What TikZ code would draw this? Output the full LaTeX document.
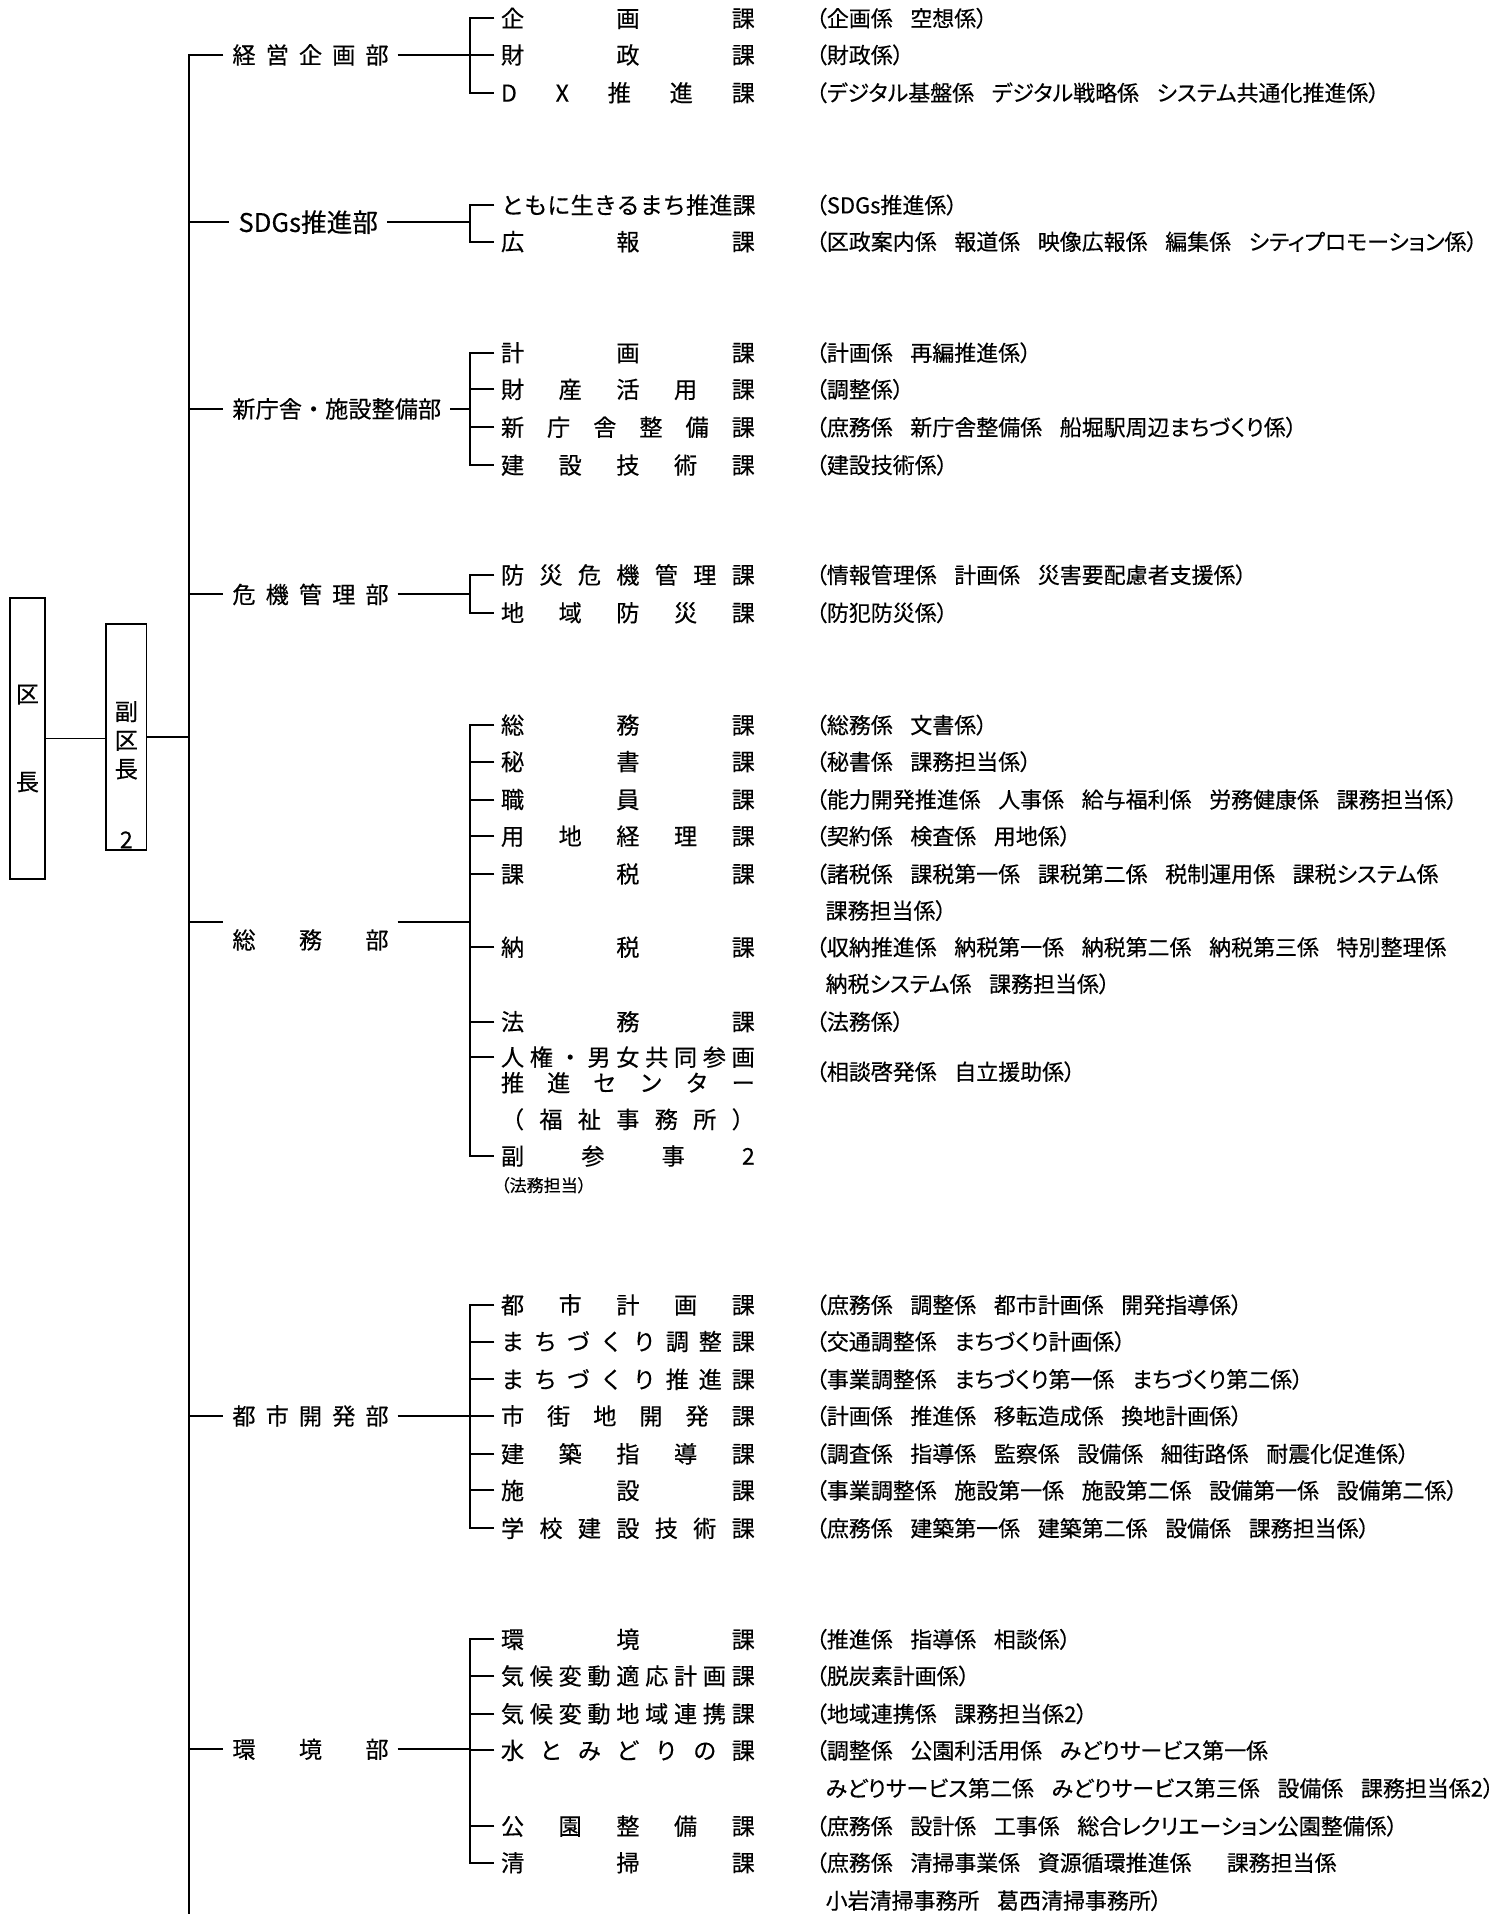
\documentclass[tikz,border=0pt]{standalone}
\usepackage{fontspec}
\setmainfont{Noto Sans CJK JP}[FakeBold=0.35]
\newfontfamily\jpp{Noto Sans CJK JP}[RawFeature=+palt,FakeBold=0.35]
\newcommand\dw[1]{\makebox[64pt][s]{#1}}
\newcommand\sw[1]{\makebox[104pt][s]{#1}}
\newcommand\gp{\hspace{0.8em}}
\tikzset{
  ln/.style={line width=0.8pt},
  dept/.style={anchor=west, inner xsep=3.5pt, inner ysep=0pt, font=\fontsize{9.5}{11}\selectfont},
  sect/.style={anchor=west, inner xsep=2.5pt, inner ysep=0pt, font=\fontsize{9.5}{11}\selectfont},
  det/.style={anchor=west, inner sep=0pt, font=\jpp\fontsize{9}{11}\selectfont},
  bx/.style={draw, line width=0.8pt, inner sep=0pt},
}
\newcommand\sect[4]{\node[sect] (#1) at (405,#2) {\sw{#3}};\node[det] (#1d) at (668,#2) {#4};}
\begin{document}
\begin{tikzpicture}[x=0.5pt,y=-0.5pt]
\useasboundingbox (0,0) rectangle (1238,1568);
% left boxes
\node[bx, minimum width=14.5pt, minimum height=115pt, align=center, font=\fontsize{9.5}{11}\selectfont] (kucho) at (22.5,605) {区\\[25pt]長};
\node[bx, minimum width=16.5pt, minimum height=92.5pt] (fuku) at (103.5,604) {};
\node[align=center, inner sep=0pt, font=\fontsize{9.5}{11.75}\selectfont] (fukut) at (103.5,606.5) {副\\区\\長};
\node[inner sep=0pt, font=\fontsize{9.5}{11}\selectfont] (fuku2) at (103.5,688) {2};
\coordinate (sptop) at (155,45);
\coordinate (spbot) at (155,1568);
\draw[ln] (kucho.east) -- (kucho.east -| fuku.west);
\draw[ln] (fuku.east) -- (fuku.east -| sptop);
% departments
\node[dept] (k1) at (183,45) {\dw{経 営 企 画 部}};
\node[dept, font=\fontsize{10.5}{12}\selectfont] (k2) at (188,182) {SDGs推進部};
\node[dept] (k3) at (183,335) {新庁舎・施設整備部};
\node[dept] (k4) at (183,487) {\dw{危 機 管 理 部}};
\node[dept] (k5) at (183,770) {\dw{総 務 部}};
\node[dept] (k6) at (183,1160) {\dw{都 市 開 発 部}};
\node[dept] (k7) at (183,1433) {\dw{環 境 部}};
\coordinate (bx1) at (385,45);
\coordinate (bx2) at (385,182);
\coordinate (bx3) at (385,335);
\coordinate (bx4) at (385,487);
\coordinate (bx5) at (385,755);
\coordinate (bx6) at (385,1160);
\coordinate (bx7) at (385,1433);
\coordinate (j5) at (155,755);
\draw[ln] (k1.west) -- (sptop) -- (spbot);
\foreach \k in {k2,k3,k4,k6,k7} \draw[ln] (\k.west -| sptop) -- (\k.west);
\draw[ln] (j5) -- (j5 -| k5.west);
\foreach \k/\b in {k1/bx1,k2/bx2,k3/bx3,k4/bx4,k6/bx6,k7/bx7} \draw[ln] (\k.east) -- (\b);
\draw[ln] (bx5 -| k5.east) -- (bx5);
% sections
\sect{s11}{15}{企 画 課}{（企画係\gp 空想係）}
\sect{s12}{45}{財 政 課}{（財政係）}
\sect{s13}{76}{D X 推 進 課}{（デジタル基盤係\gp デジタル戦略係\gp システム共通化推進係）}
\sect{s21}{168}{ともに生きるまち推進課}{（SDGs推進係）}
\sect{s22}{198}{広 報 課}{（区政案内係\gp 報道係\gp 映像広報係\gp 編集係\gp シティプロモーション係）}
\sect{s31}{289}{計 画 課}{（計画係\gp 再編推進係）}
\sect{s32}{319}{財 産 活 用 課}{（調整係）}
\sect{s33}{350}{新 庁 舎 整 備 課}{（庶務係\gp 新庁舎整備係\gp 船堀駅周辺まちづくり係）}
\sect{s34}{381}{建 設 技 術 課}{（建設技術係）}
\sect{s41}{471}{防 災 危 機 管 理 課}{（情報管理係\gp 計画係\gp 災害要配慮者支援係）}
\sect{s42}{502}{地 域 防 災 課}{（防犯防災係）}
\sect{s51}{594}{総 務 課}{（総務係\gp 文書係）}
\sect{s52}{624}{秘 書 課}{（秘書係\gp 課務担当係）}
\sect{s53}{655}{職 員 課}{（能力開発推進係\gp 人事係\gp 給与福利係\gp 労務健康係\gp 課務担当係）}
\sect{s54}{685}{用 地 経 理 課}{（契約係\gp 検査係\gp 用地係）}
\sect{s55}{716}{課 税 課}{（諸税係\gp 課税第一係\gp 課税第二係\gp 税制運用係\gp 課税システム係}
\node[det] (s55e) at (676,746) {課務担当係）};
\sect{s56}{776}{納 税 課}{（収納推進係\gp 納税第一係\gp 納税第二係\gp 納税第三係\gp 特別整理係}
\node[det] (s56e) at (676,806) {納税システム係\gp 課務担当係）};
\sect{s57}{837}{法 務 課}{（法務係）}
\sect{s58}{866}{人 権 ・ 男 女 共 同 参 画}{}
\node[sect] (s58b) at (405,887) {\sw{推 進 セ ン タ ー}};
\node[sect] (s58c) at (405,917) {\sw{（ 福 祉 事 務 所 ）}};
\node[det] (s58e) at (668,878) {（相談啓発係\gp 自立援助係）};
\sect{s59}{947}{副 参 事 2}{}
\node[anchor=west, inner sep=0pt, font=\jpp\fontsize{7}{8}\selectfont] (s59b) at (410,971) {（法務担当）};
\sect{s61}{1069}{都 市 計 画 課}{（庶務係\gp 調整係\gp 都市計画係\gp 開発指導係）}
\sect{s62}{1099}{ま ち づ く り 調 整 課}{（交通調整係\gp まちづくり計画係）}
\sect{s63}{1130}{ま ち づ く り 推 進 課}{（事業調整係\gp まちづくり第一係\gp まちづくり第二係）}
\sect{s64}{1160}{市 街 地 開 発 課}{（計画係\gp 推進係\gp 移転造成係\gp 換地計画係）}
\sect{s65}{1191}{建 築 指 導 課}{（調査係\gp 指導係\gp 監察係\gp 設備係\gp 細街路係\gp 耐震化促進係）}
\sect{s66}{1221}{施 設 課}{（事業調整係\gp 施設第一係\gp 施設第二係\gp 設備第一係\gp 設備第二係）}
\sect{s67}{1252}{学 校 建 設 技 術 課}{（庶務係\gp 建築第一係\gp 建築第二係\gp 設備係\gp 課務担当係）}
\sect{s71}{1343}{環 境 課}{（推進係\gp 指導係\gp 相談係）}
\sect{s72}{1373}{気 候 変 動 適 応 計 画 課}{（脱炭素計画係）}
\sect{s73}{1404}{気 候 変 動 地 域 連 携 課}{（地域連携係\gp 課務担当係2）}
\sect{s74}{1434}{水 と み ど り の 課}{（調整係\gp 公園利活用係\gp みどりサービス第一係}
\node[det] (s74e) at (676,1465) {みどりサービス第二係\gp みどりサービス第三係\gp 設備係\gp 課務担当係2）};
\sect{s75}{1496}{公 園 整 備 課}{（庶務係\gp 設計係\gp 工事係\gp 総合レクリエーション公園整備係）}
\sect{s76}{1526}{清 掃 課}{（庶務係\gp 清掃事業係\gp 資源循環推進係\gp\gp 課務担当係}
\node[det] (s76e) at (676,1557) {小岩清掃事務所\gp 葛西清掃事務所）};
% brackets
\draw[ln] (s11.west) -- (s11.west -| bx1) -- (s13.west -| bx1) -- (s13.west);
\draw[ln] (s12.west) -- (s12.west -| bx1);
\draw[ln] (s21.west) -- (s21.west -| bx2) -- (s22.west -| bx2) -- (s22.west);
\draw[ln] (s31.west) -- (s31.west -| bx3) -- (s34.west -| bx3) -- (s34.west);
\foreach \s in {s32,s33} \draw[ln] (\s.west) -- (\s.west -| bx3);
\draw[ln] (s41.west) -- (s41.west -| bx4) -- (s42.west -| bx4) -- (s42.west);
\draw[ln] (s51.west) -- (s51.west -| bx5) -- (s59.west -| bx5) -- (s59.west);
\foreach \s in {s52,s53,s54,s55,s56,s57,s58} \draw[ln] (\s.west) -- (\s.west -| bx5);
\draw[ln] (s61.west) -- (s61.west -| bx6) -- (s67.west -| bx6) -- (s67.west);
\foreach \s in {s62,s63,s64,s65,s66} \draw[ln] (\s.west) -- (\s.west -| bx6);
\draw[ln] (s71.west) -- (s71.west -| bx7) -- (s76.west -| bx7) -- (s76.west);
\foreach \s in {s72,s73,s74,s75} \draw[ln] (\s.west) -- (\s.west -| bx7);
\end{tikzpicture}
\end{document}
